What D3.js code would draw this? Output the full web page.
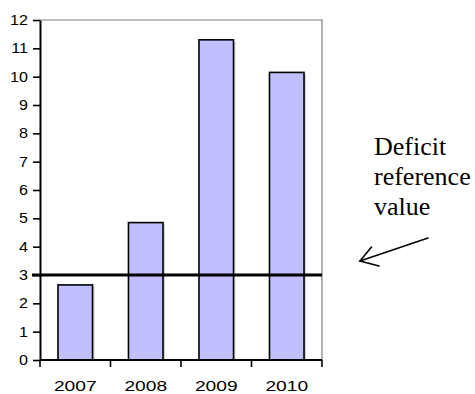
<!DOCTYPE html>
<html>
<head>
<meta charset="utf-8">
<script src="https://cdn.jsdelivr.net/npm/d3@7"></script>
<style>
  html, body { margin: 0; padding: 0; background: #fff; }
  svg { display: block; }
</style>
</head>
<body>
<svg id="chart" width="475" height="394"></svg>
<script>
// Budget deficit by year, with the reference value marked
const years = ["2007", "2008", "2009", "2010"];
const deficit = [2.65, 4.85, 11.3, 10.15];
const referenceValue = 3;
const yTicks = [0, 1, 2, 3, 4, 5, 6, 7, 8, 9, 10, 11, 12];
const noteLines = ["Deficit", "reference", "value"];

const svg = d3.select("#chart");
const plot = { left: 40, right: 322, top: 20, bottom: 360 };

const x = d3.scaleBand().domain(years).range([plot.left, plot.right])
  .paddingInner(0.51).paddingOuter(0.255);
const y = d3.scaleLinear().domain([0, 12]).range([plot.bottom, plot.top]);

// widen axis labels horizontally (wide sans lettering)
function widen(sel, factor) {
  sel.each(function () {
    const w = this.getComputedTextLength();
    d3.select(this).attr("textLength", w * factor).attr("lengthAdjust", "spacingAndGlyphs");
  });
}

// plot area frame (top and right edges)
svg.append("path")
  .attr("d", `M${plot.left},${plot.top}H${plot.right}V${plot.bottom}`)
  .attr("fill", "none").attr("stroke", "#808080").attr("stroke-width", 1.2);

// bar shadows
svg.append("g").selectAll("rect").data(deficit).join("rect")
  .attr("x", (d, i) => x(years[i]) + 2)
  .attr("y", d => y(d) + 2)
  .attr("width", x.bandwidth())
  .attr("height", d => plot.bottom - y(d) - 2)
  .attr("fill", "#d4d4d4");

// bars
svg.append("g").selectAll("rect").data(deficit).join("rect")
  .attr("x", (d, i) => x(years[i]))
  .attr("y", d => y(d))
  .attr("width", x.bandwidth())
  .attr("height", d => plot.bottom - y(d))
  .attr("fill", "#c0c0ff")
  .attr("stroke", "#000").attr("stroke-width", 1.6);

// reference line
svg.append("line")
  .attr("x1", 32).attr("x2", plot.right)
  .attr("y1", y(referenceValue)).attr("y2", y(referenceValue))
  .attr("stroke", "#000").attr("stroke-width", 3);

// y axis
const yAxis = svg.append("g").attr("transform", `translate(${plot.left},0)`)
  .call(d3.axisLeft(y).tickValues(yTicks).tickFormat(d3.format("d"))
    .tickSize(7).tickSizeOuter(0).tickPadding(5));
yAxis.select(".domain").attr("stroke", "#000").attr("stroke-width", 2);
yAxis.selectAll(".tick line").attr("stroke", "#000").attr("stroke-width", 1.6);
yAxis.selectAll(".tick text")
  .attr("font-family", "'Liberation Sans', Arial, sans-serif")
  .attr("font-size", 14).attr("fill", "#000")
  .call(widen, 1.15);

// x axis: baseline, boundary ticks and year labels
const xAxis = svg.append("g").attr("transform", `translate(0,${plot.bottom})`)
  .call(d3.axisBottom(x).tickSize(0).tickPadding(20));
xAxis.select(".domain").attr("d", `M${plot.left},0H${plot.right}`)
  .attr("stroke", "#000").attr("stroke-width", 2);
xAxis.selectAll(".tick text")
  .attr("font-family", "'Liberation Sans', Arial, sans-serif")
  .attr("font-size", 15).attr("fill", "#000")
  .call(widen, 1.28);
const bounds = d3.range(years.length + 1).map(i => plot.left + i * x.step());
xAxis.append("g").selectAll("line").data(bounds).join("line")
  .attr("x1", d => d).attr("x2", d => d)
  .attr("y1", 0).attr("y2", 7)
  .attr("stroke", "#000").attr("stroke-width", 1.6);

// annotation text
svg.append("text")
  .attr("font-family", "'Liberation Serif', 'Times New Roman', serif")
  .attr("font-size", 26).attr("fill", "#000")
  .selectAll("tspan").data(noteLines).join("tspan")
  .attr("x", 374).attr("y", (d, i) => 155 + i * 30)
  .text(d => d);

// annotation arrow pointing to the reference line
const arrow = svg.append("g").attr("fill", "none").attr("stroke", "#000")
  .attr("stroke-width", 1.6).attr("stroke-linecap", "round");
arrow.append("line").attr("x1", 428).attr("y1", 238).attr("x2", 360).attr("y2", 261);
arrow.append("path").attr("d", "M371.5,247L360,261L379,266");
</script>
</body>
</html>
